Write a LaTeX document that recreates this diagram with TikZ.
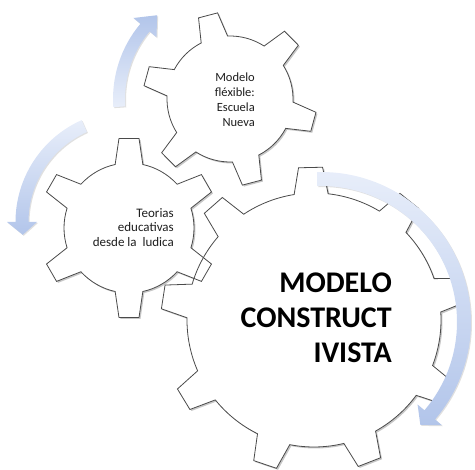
\documentclass[tikz,border=0pt]{standalone}
\usepackage{fontspec}
\setmainfont{Carlito}
\usetikzlibrary{shadows}
\definecolor{gearcol}{HTML}{4A4A4A}
\definecolor{arrlight}{HTML}{E8EEFA}
\definecolor{arrdark}{HTML}{B2C5EA}
\definecolor{txtcol}{HTML}{1E1E1E}
% #1 options, #2 cx, #3 cy, #4 teeth, #5 phase, #6 outer r, #7 root r, #8 tip half-angle, #9 base half-angle
\newcommand\gearshape[9]{%
  \begin{scope}[shift={(#2,#3)}]
  \path[#1] ({#5+#9}:#7)
    \foreach \k in {1,...,#4} {
      -- ({#5-(\k-1)*360/#4+#8}:#6) -- ({#5-(\k-1)*360/#4-#8}:#6)
      -- ({#5-(\k-1)*360/#4-#9}:#7)
      arc[start angle={#5-(\k-1)*360/#4-#9}, end angle={#5-\k*360/#4+#9}, radius=#7]
    } -- cycle;
  \end{scope}}
% #1 options, #2 cx, #3 cy, #4 mid radius, #5 half width, #6 tail angle, #7 head base angle, #8 tip angle, #9 head half width
\newcommand\circarrow[9]{%
  \begin{scope}[shift={(#2,#3)}]
  \path[#1] ({#6}:{#4+#5}) arc[start angle=#6, end angle=#7, radius={#4+#5}]
    -- ({#7}:{#4+#9}) -- ({#8}:{#4}) -- ({#7}:{#4-#9}) -- ({#7}:{#4-#5})
    arc[start angle=#7, end angle=#6, radius={#4-#5}] -- cycle;
  \end{scope}}
\begin{document}
\begin{tikzpicture}[x=1pt,y=1pt,
  gearfill/.style={fill=white, drop shadow={shadow xshift=1.5pt, shadow yshift=-1.5pt, opacity=0.22, fill=black}},
  gearedge/.style={draw=gearcol, line width=0.8pt, line join=miter},
  arrowshape/.style={drop shadow={shadow xshift=1pt, shadow yshift=-1pt, opacity=0.12, fill=black}},
  label/.style={anchor=north east, align=right, inner sep=0pt, text=txtcol}]
\useasboundingbox (0,0) rectangle (475,470);
% gear fills
\gearshape{gearfill}{129}{242}{6}{90}{90}{65}{6.4}{12.3}
\gearshape{gearfill}{230}{371}{6}{104.7}{87}{63}{6.5}{12.5}
\gearshape{gearfill}{314}{150}{9}{91.3}{153}{127}{4.5}{7.7}
% gear outlines
\gearshape{gearedge}{129}{242}{6}{90}{90}{65}{6.4}{12.3}
\gearshape{gearedge}{230}{371}{6}{104.7}{87}{63}{6.5}{12.5}
\gearshape{gearedge}{314}{150}{9}{91.3}{153}{127}{4.5}{7.7}
% labels
\node[label, font=\fontsize{12.5}{15}\selectfont] (flex) at (255,397) {Modelo\\fléxible:\\Escuela\\Nueva};
\node[label, font=\fontsize{13}{14.5}\selectfont] (teor) at (174,262) {Teorias\\educativas\\desde la\ \ ludica};
\node[label, text=black, font=\fontsize{30}{35}\selectfont\bfseries] (cons) at (392,197) {MODELO\\CONSTRUCT\\IVISTA};
% circular arrows
\circarrow{arrowshape, top color=arrlight, bottom color=arrdark}{321}{148}{143}{7}{91.5}{-40.5}{-46}{16}
\circarrow{arrowshape, top color=arrdark, bottom color=arrlight}{230}{371}{111}{6}{184}{140}{131}{15}
\circarrow{arrowshape, top color=arrlight, bottom color=arrdark}{127}{248}{105}{6.5}{114}{180}{187}{15}
\end{tikzpicture}
\end{document}
